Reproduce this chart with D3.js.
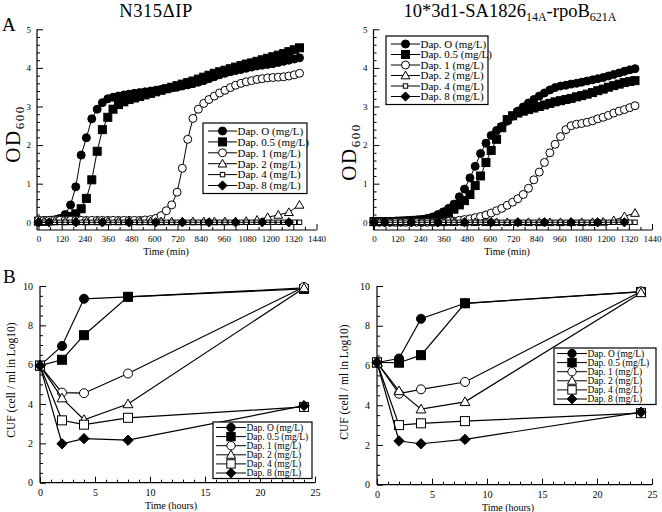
<!DOCTYPE html>
<html><head><meta charset="utf-8">
<script src="https://cdn.jsdelivr.net/npm/d3@7"></script>
<style>
body{margin:0;background:#fff}
svg{display:block}
text{font-family:"Liberation Serif","Times New Roman",serif;fill:#000}
</style>
</head><body>
<svg id="c" width="662" height="512"></svg>
<script>
const seriesNames = ["Dap. O (mg/L)","Dap. 0.5 (mg/L)","Dap. 1 (mg/L)","Dap. 2 (mg/L)","Dap. 4 (mg/L)","Dap. 8 (mg/L)"];
const growthTicks = [0,120,240,360,480,600,720,840,960,1080,1200,1320,1440];
const odTicks = [0,1,2,3,4,5];
const hourTicks = [0,5,10,15,20,25];
const cfuTicks = [0,2,4,6,8,10];

// sampling times (min)
const growthTimes = [0,28,55,83,110,138,166,193,221,248,276,304,331,359,386,414,442,469,497,524,552,580,607,635,662,690,718,745,773,800,828,856,883,911,938,966,994,1021,1049,1076,1104,1132,1159,1187,1214,1242,1270,1297,1325,1352];
const dap2Times = [0,28,83,138,193,248,304,359,414,469,524,580,635,690,745,800,856,911,966,1021,1076,1132,1187,1242,1297,1352];
const dap8Times = [0,55,193,331,469,607,745,883,1021,1159,1297];

// Panel A left: N315ΔIP
const leftDap0  = [0.03,0.03,0.04,0.06,0.1,0.2,0.45,0.92,1.74,2.19,2.68,2.93,3.1,3.2,3.24,3.27,3.3,3.32,3.34,3.36,3.38,3.4,3.42,3.44,3.46,3.48,3.5,3.53,3.56,3.59,3.63,3.67,3.72,3.77,3.82,3.86,3.9,3.93,3.96,3.99,4.02,4.05,4.07,4.09,4.11,4.14,4.17,4.2,4.23,4.26];
const leftDap05 = [0.03,0.03,0.04,0.05,0.07,0.1,0.15,0.22,0.35,0.62,1.1,1.84,2.4,2.72,2.93,3.05,3.12,3.18,3.22,3.26,3.3,3.34,3.38,3.42,3.46,3.5,3.54,3.58,3.62,3.66,3.71,3.76,3.81,3.86,3.9,3.94,3.98,4.02,4.06,4.1,4.13,4.17,4.21,4.25,4.29,4.33,4.37,4.42,4.47,4.52];
const leftDap1  = [0.05,0.05,0.05,0.05,0.05,0.05,0.05,0.05,0.05,0.05,0.05,0.05,0.05,0.05,0.05,0.05,0.05,0.05,0.05,0.05,0.06,0.07,0.1,0.17,0.3,0.45,0.78,1.4,2.15,2.69,2.93,3.08,3.18,3.27,3.35,3.42,3.49,3.55,3.6,3.64,3.67,3.7,3.72,3.74,3.75,3.76,3.77,3.79,3.82,3.86];
const leftDap2  = [0.02,0.02,0.02,0.02,0.02,0.02,0.02,0.02,0.02,0.02,0.02,0.02,0.02,0.02,0.02,0.02,0.02,0.02,0.02,0.02,0.03,0.06,0.13,0.19,0.26,0.45];
const leftDap4  = [0,0,0,0,0,0,0,0,0,0,0,0,0,0,0,0,0,0,0,0,0,0,0,0,0,0,0,0,0,0,0,0,0,0,0,0,0,0,0,0,0,0,0,0,0,0,0,0,0,0];
const leftDap8  = [0,0,0,0,0,0,0,0,0,0,0];

// Panel A right: 10*3d1-SA1826(14A)-rpoB(621A)
const rightDap0  = [0.02,0.02,0.02,0.02,0.03,0.03,0.04,0.05,0.06,0.07,0.1,0.14,0.2,0.27,0.36,0.47,0.66,0.86,1.15,1.45,1.78,2.05,2.25,2.38,2.48,2.62,2.75,2.88,2.99,3.09,3.18,3.27,3.35,3.43,3.49,3.53,3.55,3.58,3.6,3.63,3.66,3.69,3.72,3.75,3.79,3.83,3.87,3.91,3.95,3.98];
const rightDap05 = [0.02,0.02,0.02,0.02,0.02,0.03,0.03,0.04,0.05,0.06,0.07,0.09,0.12,0.18,0.24,0.34,0.45,0.56,0.72,0.95,1.2,1.55,1.86,2.15,2.45,2.66,2.76,2.83,2.88,2.92,2.96,3.0,3.04,3.08,3.12,3.15,3.18,3.21,3.25,3.28,3.32,3.36,3.41,3.45,3.5,3.54,3.58,3.62,3.65,3.67];
const rightDap1  = [0,0,0,0,0,0,0,0,0,0,0,0,0,0.01,0.02,0.03,0.05,0.07,0.09,0.12,0.15,0.19,0.24,0.3,0.36,0.44,0.52,0.61,0.72,0.88,1.1,1.3,1.55,1.8,2.02,2.22,2.4,2.5,2.54,2.56,2.59,2.63,2.68,2.72,2.77,2.83,2.88,2.92,2.97,3.02];
const rightDap2  = [0,0,0,0,0,0,0,0,0,0,0,0,0,0,0,0,0,0,0,0,0,0,0.01,0.05,0.15,0.24];
const rightDap4  = [0,0,0,0,0,0,0,0,0,0,0,0,0,0,0,0,0,0,0,0,0,0,0,0,0,0,0,0,0,0,0,0,0,0,0,0,0,0,0,0,0,0,0,0,0,0,0,0,0,0];
const rightDap8  = [0,0,0,0,0,0,0,0,0,0,0];

// Panel B: CFU (log10) vs hours
const cfuHours = [0,2,4,8,24];
const cfuLeftDap0  = [5.95,6.95,9.35,9.45,9.9];
const cfuLeftDap05 = [5.95,6.25,7.5,9.45,9.85];
const cfuLeftDap1  = [5.95,4.58,4.55,5.55,9.95];
const cfuLeftDap2  = [5.95,4.3,3.2,4.0,9.9];
const cfuLeftDap4  = [5.95,3.17,2.95,3.3,3.85];
const cfuLeftDap8  = [5.95,1.98,2.24,2.16,3.92];

const cfuRightDap0  = [6.15,6.35,8.35,9.13,9.72];
const cfuRightDap05 = [6.15,6.14,6.52,9.13,9.7];
const cfuRightDap1  = [6.15,4.58,4.8,5.17,9.72];
const cfuRightDap2  = [6.15,4.72,3.8,4.17,9.65];
const cfuRightDap4  = [6.15,3.0,3.09,3.2,3.6];
const cfuRightDap8  = [6.15,2.2,2.06,2.28,3.65];

const symbolsA = ["circleF","squareF","circleO","triO","squareSmallO","diamondF"];
const symbolsB = ["circleF","squareF","circleO","triO","squareO","diamondF"];
const seriesTimesA = [growthTimes, growthTimes, growthTimes, dap2Times, growthTimes, dap8Times];

const svg = d3.select("#c");

function drawSymbol(g, type, x, y, s) {
  if (type === "circleF" || type === "circleO") {
    g.append("circle").attr("cx", x).attr("cy", y).attr("r", s)
      .attr("fill", type === "circleF" ? "#000" : "#fff").attr("stroke", "#000").attr("stroke-width", 1);
  } else if (type === "squareF" || type === "squareO") {
    g.append("rect").attr("x", x - s).attr("y", y - s).attr("width", 2*s).attr("height", 2*s)
      .attr("fill", type === "squareF" ? "#000" : "#fff").attr("stroke", "#000").attr("stroke-width", 1);
  } else if (type === "squareSmallO") {
    const h = s * 0.55;
    g.append("rect").attr("x", x - h).attr("y", y - h).attr("width", 2*h).attr("height", 2*h)
      .attr("fill", "#fff").attr("stroke", "#000").attr("stroke-width", 1);
  } else if (type === "triO") {
    const h = s * 1.1;
    g.append("path").attr("d", `M${x},${y - h}L${x + h},${y + h*0.75}L${x - h},${y + h*0.75}Z`)
      .attr("fill", "#fff").attr("stroke", "#000").attr("stroke-width", 1);
  } else if (type === "diamondF") {
    const h = s * 1.15;
    g.append("path").attr("d", `M${x},${y - h}L${x + h},${y}L${x},${y + h}L${x - h},${y}Z`)
      .attr("fill", "#000").attr("stroke", "#000").attr("stroke-width", 1);
  }
}

function axisWithMinor(g, scale, orient, major, minor, tickLen, minorLen, fontSize, pad) {
  const isX = orient === "bottom";
  const mk = () => isX ? d3.axisBottom(scale) : d3.axisLeft(scale);
  const gm = g.append("g");
  gm.call(mk().tickValues(minor).tickSize(-minorLen).tickFormat(""));
  gm.select(".domain").remove();
  const gM = g.append("g");
  gM.call(mk().tickValues(major).tickSize(-tickLen).tickPadding(pad).tickFormat(d3.format("d")));
  g.selectAll("line").attr("stroke", "#000").attr("stroke-width", 1);
  g.selectAll(".domain").attr("stroke", "#000").attr("stroke-width", 1.2);
  g.selectAll("text").attr("font-size", fontSize).attr("font-family", '"Liberation Serif",serif').attr("fill", "#000");
  return gM;
}

function legend(g, x0, y0, w, rowH, pad, syms, symS, fontSize, lineOff, lineLen) {
  const h = pad * 2 + rowH * (seriesNames.length - 1);
  g.append("rect").attr("x", x0).attr("y", y0).attr("width", w).attr("height", h)
    .attr("fill", "#fff").attr("stroke", "#000").attr("stroke-width", 1.2);
  seriesNames.forEach((name, i) => {
    const cy = y0 + pad + i * rowH;
    const lx = x0 + lineOff;
    g.append("line").attr("x1", lx).attr("x2", lx + lineLen).attr("y1", cy).attr("y2", cy)
      .attr("stroke", "#000").attr("stroke-width", 1);
    drawSymbol(g, syms[i], lx + lineLen / 2, cy, symS);
    g.append("text").attr("x", lx + lineLen + 0.5).attr("y", cy).attr("dy", "0.35em")
      .attr("font-size", fontSize).text(name);
  });
}

function growthPanel(cfg) {
  const x = d3.scaleLinear().domain([0, 1440]).range([cfg.x0, cfg.x1]);
  const y = d3.scaleLinear().domain([-0.2, 5]).range([cfg.yb, cfg.yt]);
  const g = svg.append("g");
  const minorX = [60,180,300,420,540,660,780,900,1020,1140,1260,1380];
  const minorY = [0.2,0.4,0.6,0.8,1.2,1.4,1.6,1.8,2.2,2.4,2.6,2.8,3.2,3.4,3.6,3.8,4.2,4.4,4.6,4.8];
  const gx = g.append("g").attr("transform", `translate(0,${cfg.yb})`);
  axisWithMinor(gx, x, "bottom", growthTicks, minorX, 6, 3, 9, 6);
  const gy = g.append("g").attr("transform", `translate(${cfg.ax},0)`);
  axisWithMinor(gy, y, "left", odTicks, minorY, 6, 3, 9, 6);
  gy.select(".domain").attr("d", `M0,${cfg.yb}V${cfg.yt}`);
  gx.select(".domain").attr("d", `M${cfg.ax},0H${cfg.x1}`);

  cfg.series.forEach((vals, si) => {
    const times = seriesTimesA[si];
    const line = d3.line().x((d, i) => x(times[i])).y(d => y(d));
    g.append("path").attr("d", line(vals)).attr("fill", "none").attr("stroke", "#000").attr("stroke-width", 1);
    vals.forEach((v, i) => drawSymbol(g, symbolsA[si], x(times[i]), y(v), 4));
  });

  g.append("text").attr("x", cfg.xlx).attr("y", cfg.yb + 25).attr("text-anchor", "middle")
    .attr("font-size", 10).text("Time (min)");
  const yl = g.append("text").attr("transform", `translate(${cfg.ylx},${cfg.yly}) rotate(-90)`)
    .attr("text-anchor", "middle").attr("font-size", 21).attr("letter-spacing", 1.5);
  yl.append("tspan").text("OD");
  yl.append("tspan").attr("font-size", 13).attr("dy", 4).text("600");
  legend(g, cfg.lx, cfg.ly, cfg.lw, cfg.lrow, 8, symbolsA, 4, 11, 5, 29);
}

function cfuPanel(cfg) {
  const x = d3.scaleLinear().domain([0, 25]).range([cfg.x0, cfg.x1]);
  const y = d3.scaleLinear().domain([0, 10]).range([cfg.yb, cfg.yt]);
  const g = svg.append("g");
  const minorX = [1,2,3,4,6,7,8,9,11,12,13,14,16,17,18,19,21,22,23,24];
  const minorY = [0.5,1,1.5,2.5,3,3.5,4.5,5,5.5,6.5,7,7.5,8.5,9,9.5];
  const gx = g.append("g").attr("transform", `translate(0,${cfg.yb})`);
  axisWithMinor(gx, x, "bottom", hourTicks, minorX, 6, 3, 10, 6);
  const gy = g.append("g").attr("transform", `translate(${cfg.x0},0)`);
  axisWithMinor(gy, y, "left", cfuTicks, minorY, 6, 3, 10, 7);
  gy.select(".domain").attr("d", `M0,${cfg.yb}V${cfg.yt}`);
  gx.select(".domain").attr("d", `M${cfg.x0},0H${cfg.x1}`);

  const line = d3.line().x((d, i) => x(cfuHours[i])).y(d => y(d));
  cfg.series.forEach((vals, si) => {
    g.append("path").attr("d", line(vals)).attr("fill", "none").attr("stroke", "#000").attr("stroke-width", 1.2);
    vals.forEach((v, i) => drawSymbol(g, symbolsB[si], x(cfuHours[i]), y(v), 4.5));
  });
  g.append("text").attr("x", cfg.xlx).attr("y", cfg.yb + 26).attr("text-anchor", "middle")
    .attr("font-size", 10).text("Time (hours)");
  g.append("text").attr("transform", `translate(${cfg.ylx},${cfg.yly}) rotate(-90)`)
    .attr("text-anchor", "middle").attr("font-size", 11.5).text("CUF (cell / ml in Log10)");
  legend(g, cfg.lx, cfg.ly, cfg.lw, cfg.lrow, 5.5, symbolsB, 4.2, 9.5, 3, 30);
}

growthPanel({ax: 37, x0: 38.5, x1: 316.5, yb: 230, yt: 29.3, ylx: 20, yly: 134, xlx: 166,
  series: [leftDap0, leftDap05, leftDap1, leftDap2, leftDap4, leftDap8],
  lx: 203, ly: 123, lw: 104, lrow: 10.9});
growthPanel({ax: 373.5, x0: 374, x1: 652, yb: 230, yt: 29.3, ylx: 356, yly: 152, xlx: 507,
  series: [rightDap0, rightDap05, rightDap1, rightDap2, rightDap4, rightDap8],
  lx: 386, ly: 36, lw: 102, lrow: 10.5});
cfuPanel({x0: 40, x1: 315, yb: 482.7, yt: 286, ylx: 15, yly: 380, xlx: 171,
  series: [cfuLeftDap0, cfuLeftDap05, cfuLeftDap1, cfuLeftDap2, cfuLeftDap4, cfuLeftDap8],
  lx: 213, ly: 422, lw: 99, lrow: 9.1});
cfuPanel({x0: 377, x1: 652, yb: 484.7, yt: 286, ylx: 348, yly: 382, xlx: 508,
  series: [cfuRightDap0, cfuRightDap05, cfuRightDap1, cfuRightDap2, cfuRightDap4, cfuRightDap8],
  lx: 554, ly: 348, lw: 102, lrow: 9.1});

// Titles and panel letters
svg.append("text").attr("x", 156).attr("y", 17).attr("text-anchor", "middle").attr("font-size", 18.5)
  .attr("letter-spacing", 0.6).text("N315ΔIP");
const t2 = svg.append("text").attr("x", 510).attr("y", 17).attr("text-anchor", "middle").attr("font-size", 18.5);
t2.append("tspan").text("10*3d1-SA1826");
t2.append("tspan").attr("font-size", 12).attr("dy", 4).text("14A");
t2.append("tspan").attr("dy", -4).text("-rpoB");
t2.append("tspan").attr("font-size", 12).attr("dy", 4).text("621A");
svg.append("text").attr("x", 2).attr("y", 31).attr("font-size", 19).text("A");
svg.append("text").attr("x", 3).attr("y", 283).attr("font-size", 19).text("B");
</script>
</body></html>
